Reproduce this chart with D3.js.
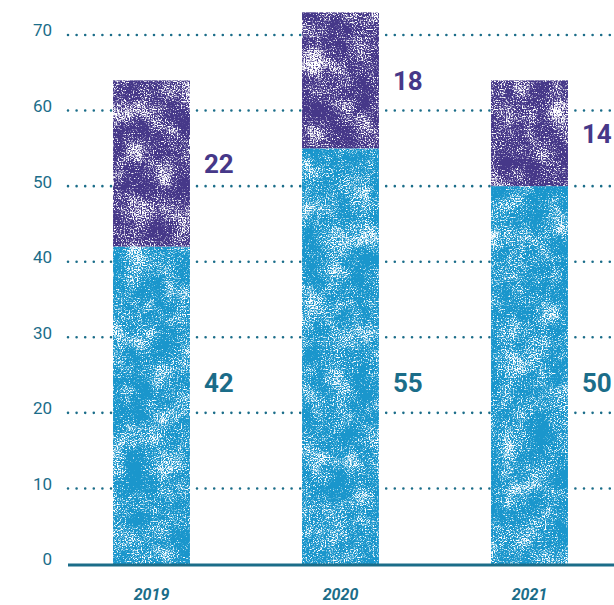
<!DOCTYPE html>
<html>
<head>
<meta charset="utf-8">
<script src="https://cdn.jsdelivr.net/npm/d3@7/dist/d3.min.js"></script>
<style>
  html, body { margin: 0; padding: 0; background: #ffffff; }
  svg { display: block; }
</style>
</head>
<body>
<div id="chart"></div>
<script>
// Stacked totals per year: lower (blue) and upper (purple) segments
const years = ["2019", "2020", "2021"];
const lowerValues = [42, 55, 50];
const upperValues = [22, 18, 14];
const yTicks = [0, 10, 20, 30, 40, 50, 60, 70];

const W = 614, H = 605;
const teal = "#1b6d89";
const blue = "#1a96cc";
const purple = "#463889";

const svg = d3.select("#chart").append("svg")
  .attr("width", W).attr("height", H);

// Grain texture: fine speckle modulated by a coarse cloud, used as an alpha mask
const defs = svg.append("defs");
function grain(id, seedA, seedB) {
  const f = defs.append("filter").attr("id", id)
    .attr("x", 0).attr("y", 0).attr("width", 1).attr("height", 1)
    .attr("color-interpolation-filters", "sRGB");
  f.append("feTurbulence").attr("type", "fractalNoise")
    .attr("baseFrequency", 0.75).attr("numOctaves", 2).attr("seed", seedA).attr("result", "fine");
  f.append("feTurbulence").attr("type", "fractalNoise")
    .attr("baseFrequency", 0.04).attr("numOctaves", 3).attr("seed", seedB).attr("result", "coarse");
  f.append("feComposite").attr("in", "fine").attr("in2", "coarse")
    .attr("operator", "arithmetic").attr("k2", 0.8).attr("k3", 0.45).attr("result", "mix");
  f.append("feColorMatrix").attr("in", "mix").attr("type", "matrix")
    .attr("values", "0 0 0 0 0  0 0 0 0 0  0 0 0 0 0  1 0 0 0 0").attr("result", "a");
  const ct = f.append("feComponentTransfer").attr("in", "a").attr("result", "mask");
  ct.append("feFuncA").attr("type", "linear").attr("slope", 7).attr("intercept", -2.45);
  f.append("feComposite").attr("in", "SourceGraphic").attr("in2", "mask").attr("operator", "in");
}
grain("grainBlue", 11, 4);
grain("grainPurple", 23, 9);

const y = d3.scaleLinear().domain([0, 70]).range([564, 35]);
const x = d3.scaleBand().domain(years).range([57, 624])
  .paddingInner(0.593).paddingOuter(0.2965);

// Dotted gridlines
svg.append("g").selectAll("line")
  .data(yTicks.filter(d => d > 0))
  .join("line")
  .attr("x1", 68).attr("x2", W)
  .attr("y1", d => y(d)).attr("y2", d => y(d))
  .attr("stroke", teal).attr("stroke-width", 2.6)
  .attr("stroke-linecap", "round")
  .attr("stroke-dasharray", "0 8.6");

// Y tick labels
const yAxis = d3.axisLeft(y).tickValues(yTicks).tickSize(0).tickPadding(0);
const gy = svg.append("g").attr("transform", "translate(52,-4.5)").call(yAxis);
gy.select(".domain").remove();
gy.selectAll("text")
  .attr("fill", teal)
  .style("font-family", "Roboto, sans-serif")
  .style("font-size", "17px");

// Bars (a white backing keeps the gridlines from showing through the grain)
const bars = svg.append("g");
bars.selectAll("rect.back").data(years).join("rect").attr("class", "back")
  .attr("x", d => x(d)).attr("width", x.bandwidth())
  .attr("y", (d, i) => y(lowerValues[i] + upperValues[i]))
  .attr("height", (d, i) => y(0) - y(lowerValues[i] + upperValues[i]))
  .attr("fill", "#ffffff");
bars.selectAll("rect.lower").data(years).join("rect").attr("class", "lower")
  .attr("x", d => x(d)).attr("width", x.bandwidth())
  .attr("y", (d, i) => y(lowerValues[i]))
  .attr("height", (d, i) => y(0) - y(lowerValues[i]))
  .attr("fill", blue).attr("filter", "url(#grainBlue)");
bars.selectAll("rect.upper").data(years).join("rect").attr("class", "upper")
  .attr("x", d => x(d)).attr("width", x.bandwidth())
  .attr("y", (d, i) => y(lowerValues[i] + upperValues[i]))
  .attr("height", (d, i) => y(lowerValues[i]) - y(lowerValues[i] + upperValues[i]))
  .attr("fill", purple).attr("filter", "url(#grainPurple)");

// Baseline
svg.append("line")
  .attr("x1", 68).attr("x2", W)
  .attr("y1", y(0) + 1).attr("y2", y(0) + 1)
  .attr("stroke", teal).attr("stroke-width", 3);

// Value labels beside each bar
const labels = svg.append("g")
  .style("font-family", "Roboto, sans-serif")
  .style("font-weight", "700")
  .style("font-size", "26px");
labels.selectAll("text.lower").data(years).join("text").attr("class", "lower")
  .attr("x", d => x(d) + x.bandwidth() + 14)
  .attr("y", y(24))
  .attr("dy", "0.36em")
  .attr("fill", teal)
  .text((d, i) => lowerValues[i]);
labels.selectAll("text.upper").data(years).join("text").attr("class", "upper")
  .attr("x", d => x(d) + x.bandwidth() + 14)
  .attr("y", (d, i) => y(lowerValues[i] + upperValues[i] / 2))
  .attr("dy", "0.36em")
  .attr("fill", purple)
  .text((d, i) => upperValues[i]);

// Year labels
svg.append("g").selectAll("text").data(years).join("text")
  .attr("x", d => x(d) + x.bandwidth() / 2)
  .attr("y", 600)
  .attr("text-anchor", "middle")
  .attr("fill", teal)
  .style("font-family", "Roboto, sans-serif")
  .style("font-style", "italic")
  .style("font-weight", "700")
  .style("font-size", "16px")
  .text(d => d);
</script>
</body>
</html>
